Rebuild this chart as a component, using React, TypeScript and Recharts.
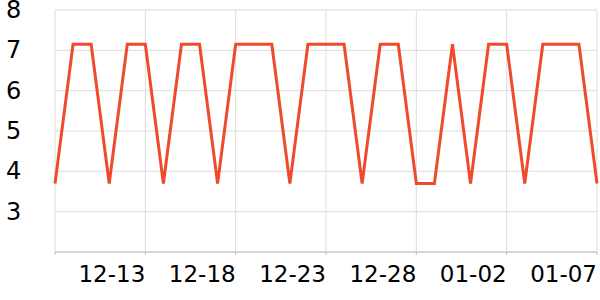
import React from 'react';
import { LineChart, Line, XAxis, YAxis, CartesianGrid } from 'recharts';

const dates = [
  '12-08', '12-09', '12-10', '12-11', '12-12', '12-13', '12-14', '12-15', '12-16', '12-17', '12-18',
  '12-19', '12-20', '12-21', '12-22', '12-23', '12-24', '12-25', '12-26', '12-27', '12-28',
  '12-29', '12-30', '12-31', '01-01', '01-02', '01-03', '01-04', '01-05', '01-06', '01-07',
];

const values = [
  3.7, 7.15, 7.15, 3.7, 7.15, 7.15, 3.7, 7.15, 7.15, 3.7, 7.15,
  7.15, 7.15, 3.7, 7.15, 7.15, 7.15, 3.7, 7.15, 7.15, 3.7,
  3.7, 7.15, 3.7, 7.15, 7.15, 3.7, 7.15, 7.15, 7.15, 3.7,
];

const yTicks = [3, 4, 5, 6, 7, 8];

const data = dates.map((d, i) => ({ date: d, value: values[i] }));

const XTick = (props: any) => {
  const { x, y, payload } = props;
  if (payload.index === 0) return null;
  return (
    <text x={x} y={y + 25} textAnchor="end" fontSize={23} fill="#000" fontFamily="DejaVu Sans">
      {payload.value}
    </text>
  );
};

const YTick = (props: any) => {
  const { y, payload } = props;
  return (
    <text x={6} y={y} dy="0.34em" textAnchor="start" fontSize={24} fill="#000" fontFamily="DejaVu Sans">
      {payload.value}
    </text>
  );
};

const App: React.FC = () => {
  return (
    <div style={{ position: 'absolute', left: 0, top: 0, background: '#fff' }}>
      <LineChart width={600} height={300} data={data} margin={{ top: 10, right: 3, left: 0, bottom: 0 }}>
        <CartesianGrid stroke="#dddddd" />
        <XAxis
          dataKey="date"
          interval={4}
          height={48}
          tick={<XTick />}
          tickSize={3}
          tickLine={{ stroke: '#bbbbbb' }}
          axisLine={{ stroke: '#bbbbbb' }}
        />
        <YAxis
          width={55}
          domain={[2, 8]}
          ticks={yTicks}
          tick={<YTick />}
          tickLine={false}
          axisLine={false}
        />
        <Line
          type="linear"
          dataKey="value"
          stroke="#ef4a2c"
          strokeWidth={3}
          dot={false}
          isAnimationActive={false}
        />
      </LineChart>
    </div>
  );
};

export default App;
